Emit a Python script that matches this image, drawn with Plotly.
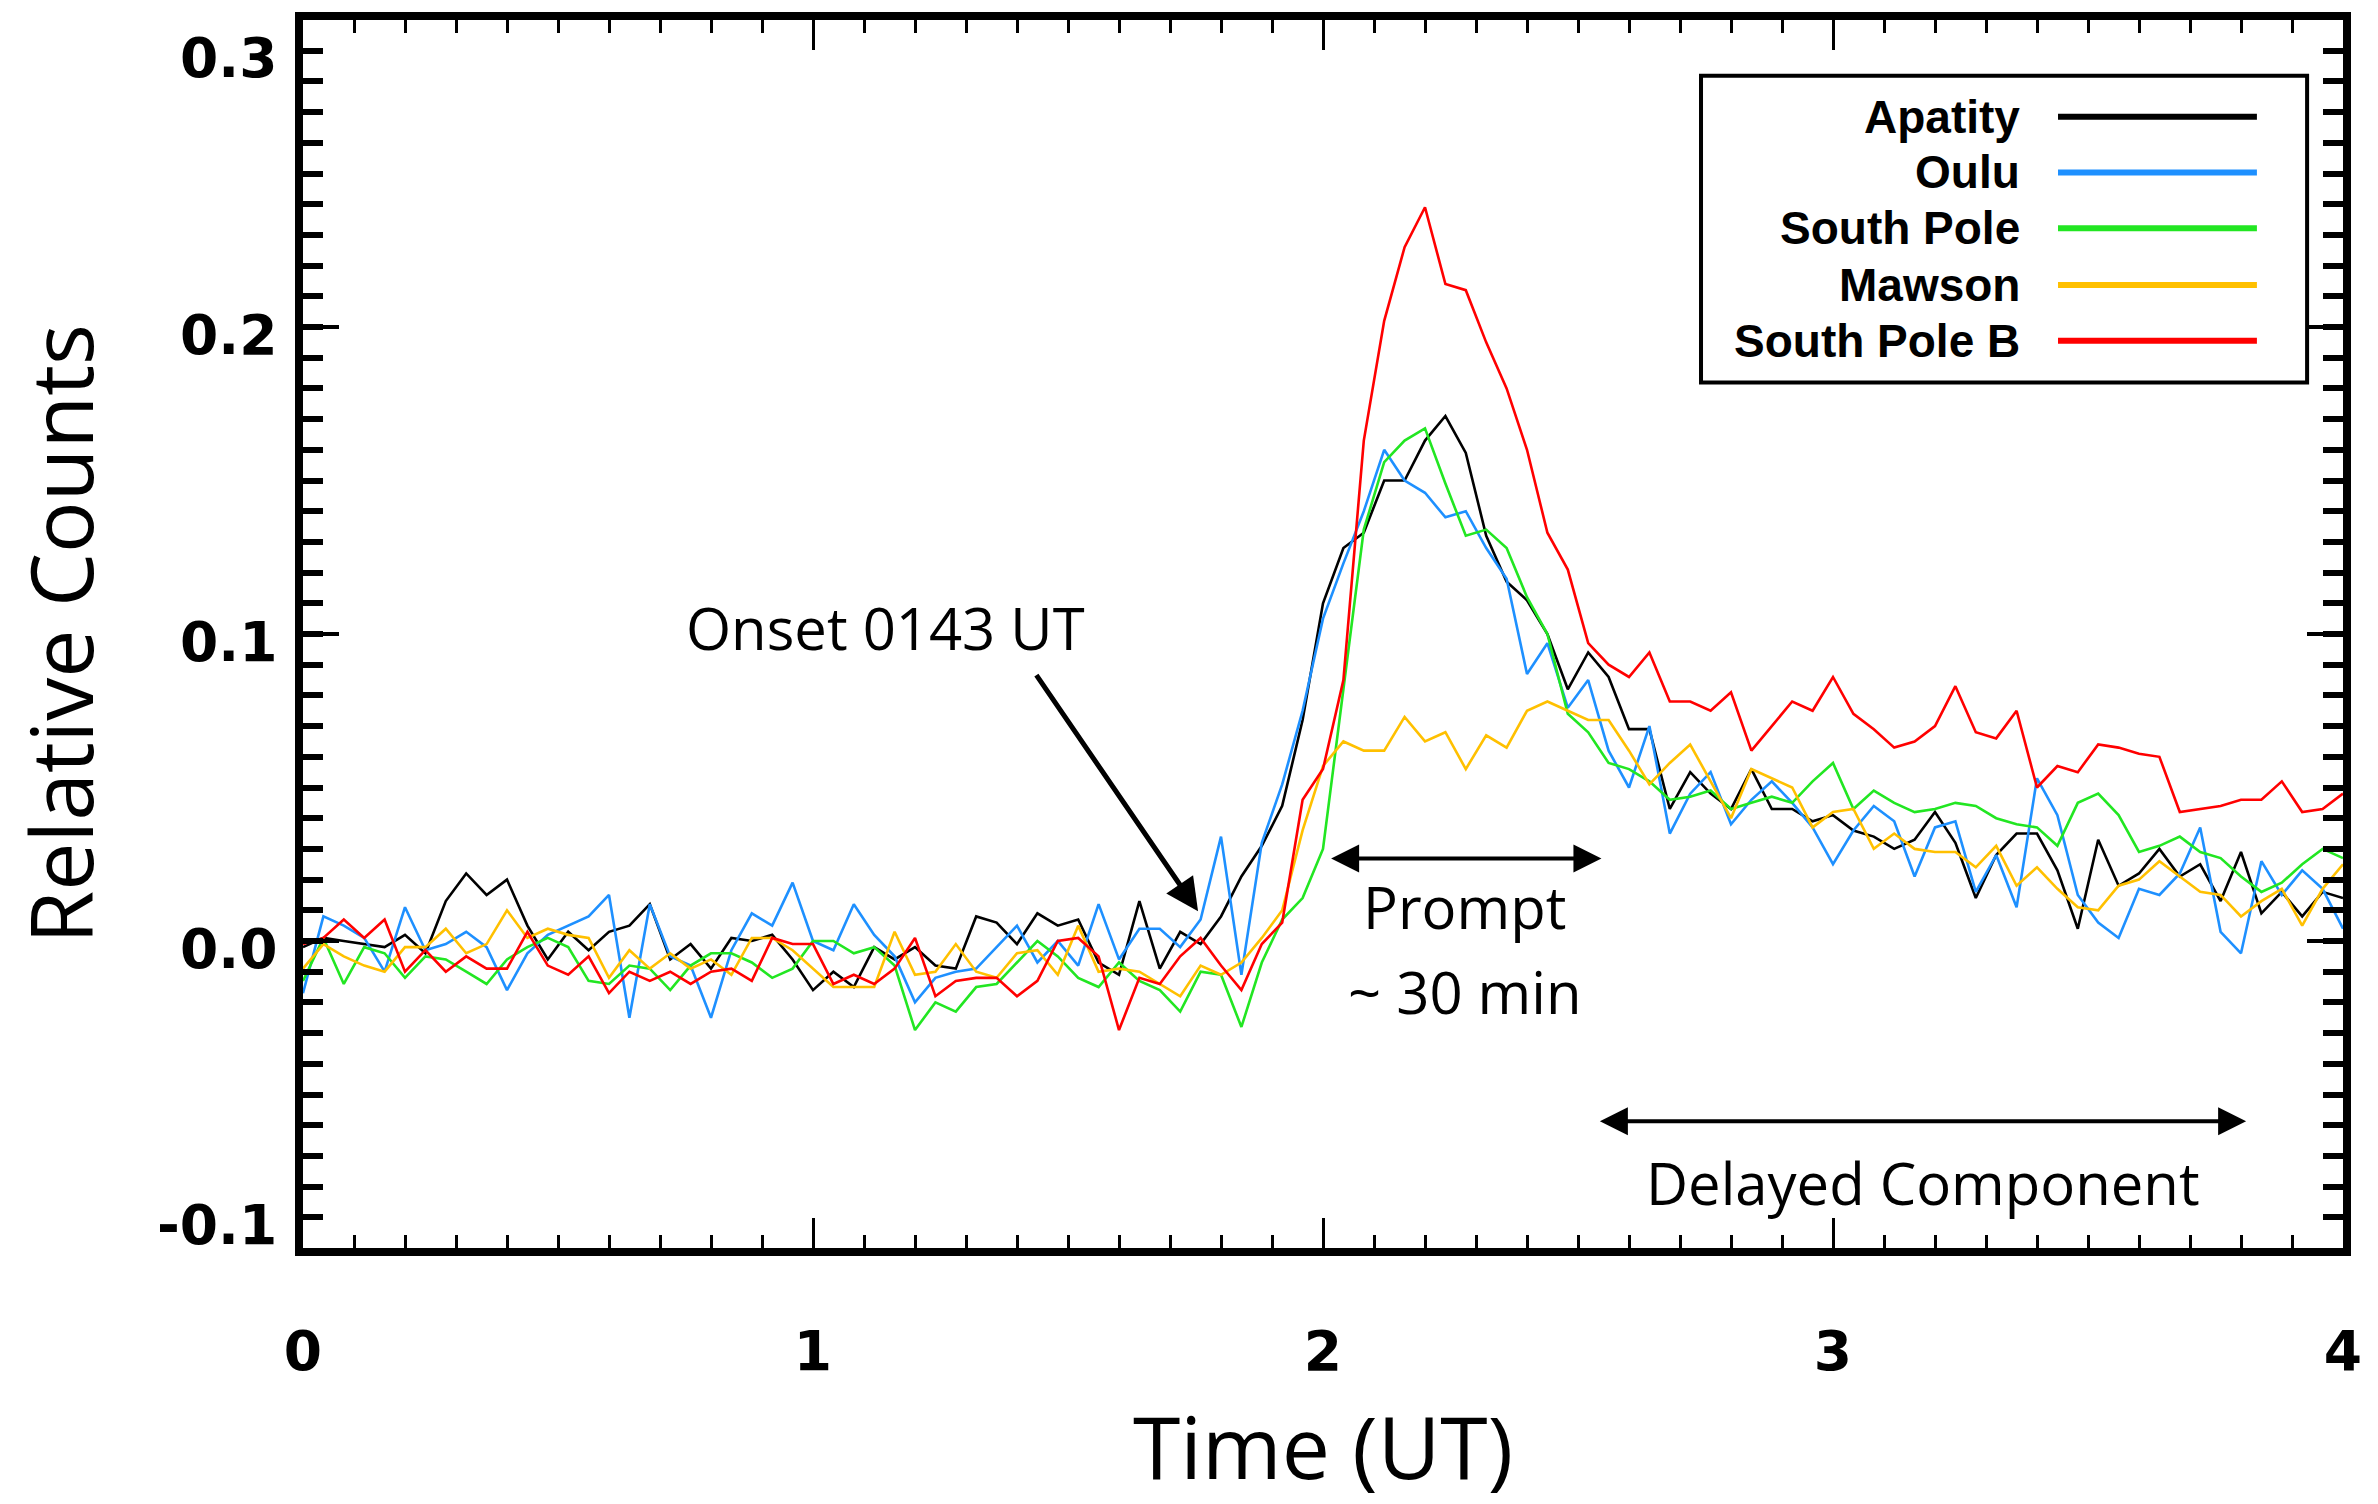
import plotly.graph_objects as go

# ---------------- data ----------------
step_hours = 0.04
n_points = 101
times = [round(i * step_hours, 2) for i in range(n_points)]

apatity = [
    -0.002, 0.001, 0.000, -0.001, -0.002, 0.002, -0.004, 0.013, 0.022, 0.015,
    0.020, 0.005, -0.006, 0.003, -0.003, 0.003, 0.005, 0.012, -0.006, -0.001,
    -0.009, 0.001, 0.000, 0.002, -0.006, -0.016, -0.010, -0.015, -0.002, -0.006,
    -0.002, -0.008, -0.009, 0.008, 0.006, -0.001, 0.009, 0.005, 0.007, -0.007,
    -0.011, 0.013, -0.009, 0.003, -0.001, 0.008, 0.021, 0.031, 0.044, 0.072,
    0.110, 0.128, 0.133, 0.150, 0.150, 0.163, 0.171, 0.159, 0.132, 0.117,
    0.111, 0.100, 0.082, 0.094, 0.086, 0.069, 0.069, 0.043, 0.055, 0.048,
    0.043, 0.056, 0.043, 0.043, 0.039, 0.041, 0.036, 0.034, 0.030, 0.033,
    0.042, 0.032, 0.014, 0.028, 0.035, 0.035, 0.023, 0.004, 0.033, 0.018,
    0.022, 0.030, 0.021, 0.025, 0.013, 0.029, 0.009, 0.016, 0.008, 0.016,
    0.014,
]

oulu = [
    -0.017, 0.008, 0.005, 0.001, -0.010, 0.011, -0.003, -0.001, 0.003, -0.002,
    -0.016, -0.004, 0.002, 0.005, 0.008, 0.015, -0.025, 0.012, -0.005, -0.008,
    -0.025, -0.003, 0.009, 0.005, 0.019, 0.000, -0.003, 0.012, 0.002, -0.005,
    -0.020, -0.012, -0.010, -0.009, -0.002, 0.005, -0.007, 0.000, -0.008, 0.012,
    -0.006, 0.004, 0.004, -0.002, 0.007, 0.034, -0.011, 0.032, 0.051, 0.075,
    0.105, 0.123, 0.140, 0.160, 0.150, 0.146, 0.138, 0.140, 0.128, 0.118,
    0.087, 0.097, 0.076, 0.085, 0.062, 0.050, 0.070, 0.035, 0.048, 0.055,
    0.038, 0.046, 0.052, 0.045, 0.037, 0.025, 0.036, 0.044, 0.039, 0.021,
    0.037, 0.039, 0.016, 0.028, 0.011, 0.053, 0.041, 0.015, 0.006, 0.001,
    0.017, 0.015, 0.022, 0.037, 0.003, -0.004, 0.026, 0.015, 0.023, 0.017,
    0.004,
]

south_pole = [
    -0.013, 0.001, -0.014, -0.002, -0.004, -0.012, -0.005, -0.006, -0.010, -0.014,
    -0.006, -0.002, 0.001, -0.002, -0.013, -0.014, -0.008, -0.009, -0.016, -0.008,
    -0.004, -0.004, -0.007, -0.012, -0.009, 0.000, 0.000, -0.004, -0.002, -0.008,
    -0.029, -0.020, -0.023, -0.015, -0.014, -0.007, 0.000, -0.005, -0.012, -0.015,
    -0.007, -0.013, -0.016, -0.023, -0.010, -0.011, -0.028, -0.007, 0.007, 0.014,
    0.030, 0.082, 0.134, 0.156, 0.163, 0.167, 0.149, 0.132, 0.134, 0.128,
    0.112, 0.100, 0.074, 0.068, 0.058, 0.056, 0.052, 0.046, 0.047, 0.049,
    0.043, 0.045, 0.047, 0.045, 0.052, 0.058, 0.043, 0.049, 0.045, 0.042,
    0.043, 0.045, 0.044, 0.040, 0.038, 0.037, 0.031, 0.045, 0.048, 0.041,
    0.029, 0.031, 0.034, 0.029, 0.027, 0.021, 0.016, 0.019, 0.025, 0.030,
    0.027,
]

mawson = [
    -0.009, -0.001, -0.005, -0.008, -0.010, -0.002, -0.002, 0.004, -0.004, -0.001,
    0.010, 0.001, 0.004, 0.002, 0.001, -0.012, -0.003, -0.009, -0.004, -0.009,
    -0.006, -0.011, 0.001, 0.001, -0.003, -0.009, -0.015, -0.015, -0.015, 0.003,
    -0.011, -0.010, -0.001, -0.010, -0.012, -0.004, -0.003, -0.011, 0.005, -0.010,
    -0.009, -0.010, -0.014, -0.018, -0.008, -0.011, -0.007, 0.001, 0.010, 0.036,
    0.057, 0.065, 0.062, 0.062, 0.073, 0.065, 0.068, 0.056, 0.067, 0.063,
    0.075, 0.078, 0.075, 0.072, 0.072, 0.062, 0.051, 0.058, 0.064, 0.052,
    0.040, 0.056, 0.053, 0.050, 0.037, 0.042, 0.043, 0.030, 0.035, 0.030,
    0.029, 0.029, 0.024, 0.031, 0.018, 0.024, 0.017, 0.011, 0.010, 0.018,
    0.020, 0.026, 0.021, 0.016, 0.015, 0.008, 0.013, 0.017, 0.005, 0.017,
    0.025,
]

south_pole_b = [
    -0.001, 0.001, 0.007, 0.001, 0.007, -0.010, -0.003, -0.010, -0.005, -0.009,
    -0.009, 0.003, -0.008, -0.011, -0.005, -0.017, -0.010, -0.013, -0.010, -0.014,
    -0.010, -0.009, -0.013, 0.001, -0.001, -0.001, -0.014, -0.011, -0.014, -0.009,
    0.001, -0.018, -0.013, -0.012, -0.012, -0.018, -0.013, 0.000, 0.001, -0.005,
    -0.029, -0.012, -0.014, -0.005, 0.001, -0.008, -0.016, -0.001, 0.006, 0.046,
    0.056, 0.085, 0.163, 0.202, 0.226, 0.239, 0.214, 0.212, 0.195, 0.180,
    0.160, 0.133, 0.121, 0.097, 0.090, 0.086, 0.094, 0.078, 0.078, 0.075,
    0.081, 0.062, 0.070, 0.078, 0.075, 0.086, 0.074, 0.069, 0.063, 0.065,
    0.070, 0.083, 0.068, 0.066, 0.075, 0.050, 0.057, 0.055, 0.064, 0.063,
    0.061, 0.060, 0.042, 0.043, 0.044, 0.046, 0.046, 0.052, 0.042, 0.043,
    0.048,
]

series_names = ["Apatity", "Oulu", "South Pole", "Mawson", "South Pole B"]
series_values = [apatity, oulu, south_pole, mawson, south_pole_b]
series_colors = ["#000000", "#1E90FF", "#22E622", "#FFC000", "#FF0000"]

x_tick_values = [0, 1, 2, 3, 4]
x_tick_labels = ["0", "1", "2", "3", "4"]
y_tick_values = [-0.1, 0.0, 0.1, 0.2, 0.3]
y_tick_labels = ["-0.1", "0.0", "0.1", "0.2", "0.3"]

onset_label = "Onset 0143 UT"
prompt_label = "Prompt"
prompt_duration_label = "~ 30 min"
delayed_label = "Delayed Component"

# ---------------- figure ----------------
fig = go.Figure()
for name, vals, col in zip(series_names, series_values, series_colors):
    fig.add_trace(go.Scatter(x=times, y=vals, mode="lines", name=name,
                             line=dict(color=col, width=2.6), showlegend=False))

x_minor = [round(0.1 * i, 1) for i in range(41)]
y_minor = [round(-0.1 + 0.01 * i, 2) for i in range(41)]

tick_font = dict(family="DejaVu Sans", size=55, color="black", weight="bold")
title_font = dict(family="Open Sans", size=86, color="black")
note_font = dict(family="Open Sans", size=58, color="black")

fig.update_layout(
    width=2378, height=1504,
    margin=dict(l=303, r=35, t=15, b=256),
    paper_bgcolor="white", plot_bgcolor="white",
    showlegend=False,
)
fig.update_xaxes(
    range=[0, 4], tickmode="array", tickvals=x_tick_values, ticktext=x_tick_labels,
    ticks="inside", ticklen=30, tickwidth=3, tickcolor="black",
    showline=True, linewidth=8, linecolor="black", mirror="allticks",
    showgrid=False, zeroline=False, tickfont=tick_font, ticklabelstandoff=48,
    minor=dict(tickmode="array", tickvals=x_minor, ticks="inside", ticklen=13,
               tickwidth=3, tickcolor="black", showgrid=False),
    title=dict(text="Time (UT)", font=title_font, standoff=44),
)
fig.update_yaxes(
    range=[-0.1, 0.3], tickmode="array", tickvals=y_tick_values,
    ticks="inside", ticklen=36, tickwidth=4, tickcolor="black",
    showline=True, linewidth=8, linecolor="black", mirror="allticks",
    showgrid=False, zeroline=False, showticklabels=False,
    minor=dict(tickmode="array", tickvals=y_minor, ticks="inside", ticklen=20,
               tickwidth=6, tickcolor="black", showgrid=False),
    title=dict(text="Relative Counts", font=title_font, standoff=176),
)

# y tick labels placed on the y scale; extreme labels nudged inside the frame
y_top, y_bottom = max(y_tick_values), min(y_tick_values)
for val, lab in zip(y_tick_values, y_tick_labels):
    if val == y_top:
        shift = -38
    elif val == y_bottom:
        shift = 23
    else:
        shift = -8
    fig.add_annotation(xref="paper", yref="y", x=0, y=val, text=lab, showarrow=False,
                       xanchor="right", yanchor="middle", xshift=-24, yshift=shift,
                       font=tick_font)

# annotations: onset arrow + labels
fig.add_annotation(x=1.142, y=0.102, text=onset_label, showarrow=False, font=note_font)
fig.add_annotation(x=1.755, y=0.0097, ax=1.436, ay=0.0871, axref="x", ayref="y",
                   text="", showarrow=True, arrowhead=2, arrowsize=1.3,
                   arrowwidth=5, arrowcolor="black")
fig.add_annotation(x=2.546, y=0.0269, ax=2.013, ay=0.0269, axref="x", ayref="y",
                   text="", showarrow=True, arrowhead=2, arrowside="end+start",
                   startarrowhead=2, arrowsize=1.4, startarrowsize=1.4,
                   arrowwidth=4, arrowcolor="black")
fig.add_annotation(x=2.278, y=0.0112, text=prompt_label, showarrow=False, font=note_font)
fig.add_annotation(x=2.278, y=-0.0164, text=prompt_duration_label, showarrow=False, font=note_font)
fig.add_annotation(x=3.81, y=-0.0587, ax=2.540, ay=-0.0587, axref="x", ayref="y",
                   text="", showarrow=True, arrowhead=2, arrowside="end+start",
                   startarrowhead=2, arrowsize=1.4, startarrowsize=1.4,
                   arrowwidth=4, arrowcolor="black")
fig.add_annotation(x=3.176, y=-0.0788, text=delayed_label, showarrow=False, font=note_font)

# custom legend (text left, sample line right) in paper coordinates
fig.add_shape(type="rect", xref="paper", yref="paper",
              x0=0.6853, x1=0.9824, y0=0.7048, y1=0.9546,
              line=dict(color="black", width=4), fillcolor="white", layer="above")
legend_rows = [0.9213, 0.8759, 0.8305, 0.7843, 0.7389]
legend_font = dict(family="Liberation Sans", size=46, color="black", weight="bold")
for name, col, yr in zip(series_names, series_colors, legend_rows):
    fig.add_annotation(xref="paper", yref="paper", x=0.8426, y=yr, text=name,
                       showarrow=False, xanchor="right", yanchor="middle", font=legend_font)
    fig.add_shape(type="line", xref="paper", yref="paper", x0=0.8603, x1=0.9578,
                  y0=yr, y1=yr, line=dict(color=col, width=6), layer="above")

fig.write_html("out.html")
